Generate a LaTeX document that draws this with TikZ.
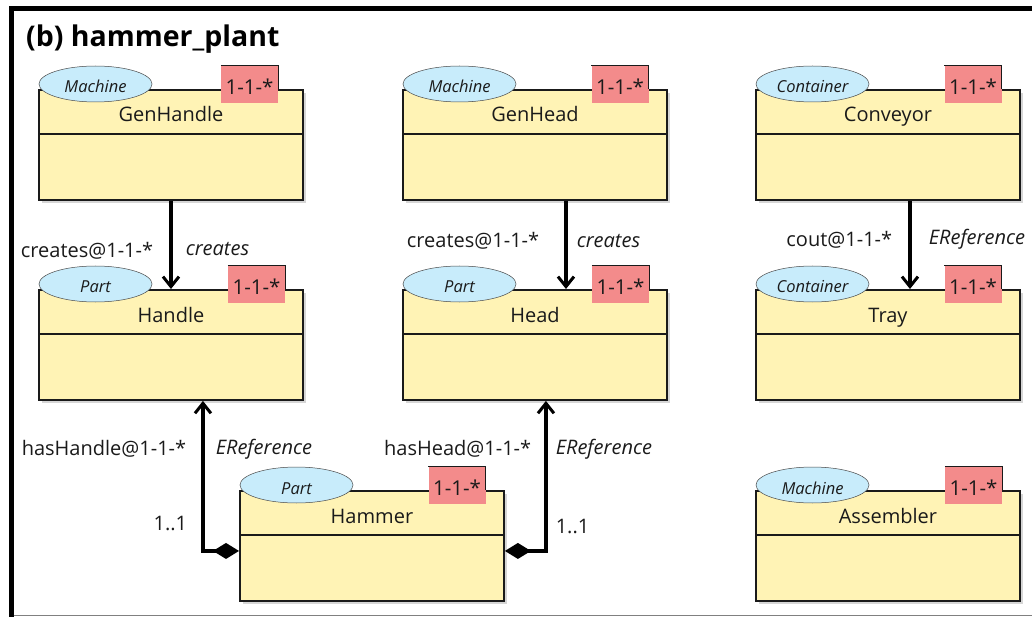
\documentclass[tikz,border=0pt]{standalone}
\usepackage{fontspec}
\setmainfont{Open Sans}
\usetikzlibrary{arrows.meta,shapes.geometric}

\definecolor{clline}{HTML}{1A1A1A}
\definecolor{clfill}{HTML}{FFF3B5}
\definecolor{clest}{HTML}{C8ECFB}
\definecolor{clcard}{HTML}{F38B8B}
\definecolor{clsombra}{HTML}{D6D6D6}
\tikzset{
  classe/.style={draw=clline,line width=1.9pt,fill=clfill,minimum width=264pt,minimum height=110pt,anchor=north west,inner sep=0pt},
  sombra/.style={fill=clsombra},
  divisao/.style={draw=clline,line width=1.5pt},
  nome/.style={font=\fontsize{20}{24}\selectfont,text=clline,anchor=base,inner sep=0pt},
  estereo/.style={ellipse,draw=clline!80,line width=0.5pt,fill=clest,minimum width=113pt,minimum height=36pt,inner sep=0pt},
  estereotxt/.style={font=\fontsize{16.5}{19}\selectfont\itshape,text=clline,anchor=base,inner sep=0pt},
  cartao/.style={fill=clcard,minimum width=57pt,minimum height=37pt,inner sep=0pt},
  cartaotxt/.style={font=\fontsize{20.5}{24}\selectfont,text=clline,anchor=base,inner sep=0pt},
  rot/.style={font=\fontsize{20}{24}\selectfont,text=clline,inner sep=0pt},
  rotit/.style={rot,font=\fontsize{20}{24}\selectfont\itshape},
  titulo/.style={font=\fontsize{28.5}{34}\selectfont\bfseries,text=black,inner sep=0pt},
  cria/.style={draw=black,line width=3.6pt,-{Straight Barb[length=10pt,width=16pt,line width=3pt]}},
  comp/.style={draw=black,line width=3.6pt,{Diamond[length=26pt,width=16pt,line width=0pt]}-{Straight Barb[length=10pt,width=16pt,line width=3pt]}},
  moldura/.style={draw=black,line width=5pt},
}

\begin{document}
\begin{tikzpicture}[x=1pt,y=-1pt]
  \useasboundingbox (0,0) rectangle (1032,617);
  \draw[moldura] (11,617) -- (11,8.5) -- (1032,8.5);                  % moldura
  \draw[gray,line width=1.5pt] (13.5,615.5) -- (1032,615.5);
  \node[titulo,anchor=base west] (titulo) at (26,47) {(b) hammer\_plant};
  \foreach \n/\x/\y/\st/\lab/\bx in {genhandle/38/89/Machine/GenHandle/211.5,
      genhead/402/89/Machine/GenHead/218, conveyor/755/89/Container/Conveyor/218,
      handle/38/289/Part/Handle/218.5, head/402/289/Part/Head/218.5,
      tray/755/289/Container/Tray/218, hammer/239/490/Part/Hammer/218,
      assembler/755/490/Machine/Assembler/218.5} {
    \fill[sombra] ({\x+4},{\y+4}) rectangle ({\x+268},{\y+114});
    \node[classe] (\n) at (\x,\y) {};
    \draw[divisao] ([yshift=-45pt]\n.north west) -- ([yshift=-45pt]\n.north east);
    \node[nome] at ([yshift=-33pt]\n.north) {\lab};
    \node[estereo] (\n-est) at ([xshift=57.5pt,yshift=5pt]\n.north west) {};
    \node[estereotxt] at ([yshift=-9pt]\n-est.center) {\st};
    \node[cartao] (\n-card) at ([xshift=\bx pt,yshift=4.5pt]\n.north west) {};
    \node[cartaotxt] at ([yshift=-10pt]\n-card.center) {1-1-*};
    \draw[clline,line width=0.8pt] (\n-card.north west) -- (\n-card.north east) -- ([yshift=-23pt]\n-card.north east);}
  \draw[cria] (genhandle.south) -- (handle.north)
    node[rot,pos=0.57,left=16pt] {creates@1-1-*}
    node[rotit,pos=0.55,right=13pt] {creates};
  \draw[cria] ([xshift=31pt]genhead.south) -- ([xshift=31pt]head.north)
    node[rot,pos=0.45,left=25pt] {creates@1-1-*}
    node[rotit,pos=0.45,right=9pt] {creates};
  \draw[cria] ([xshift=22pt]conveyor.south) -- ([xshift=22pt]tray.north)
    node[rot,pos=0.44,left=16pt] {cout@1-1-*}
    node[rotit,pos=0.44,right=17pt] {EReference};
  \draw[comp] ([yshift=-5pt]hammer.west) -| ([xshift=32pt]handle.south)
    node[rot,pos=0.84,left=15pt] {hasHandle@1-1-*}
    node[rotit,pos=0.84,right=11pt] {EReference}
    node[rot,pos=0.59,left=14pt] {1..1};
  \draw[comp] ([yshift=-5pt]hammer.east) -| ([xshift=11pt]head.south)
    node[rot,pos=0.84,left=13pt] {hasHead@1-1-*}
    node[rotit,pos=0.84,right=8pt] {EReference}
    node[rot,pos=0.58,right=8pt] {1..1};
\end{tikzpicture}
\end{document}
